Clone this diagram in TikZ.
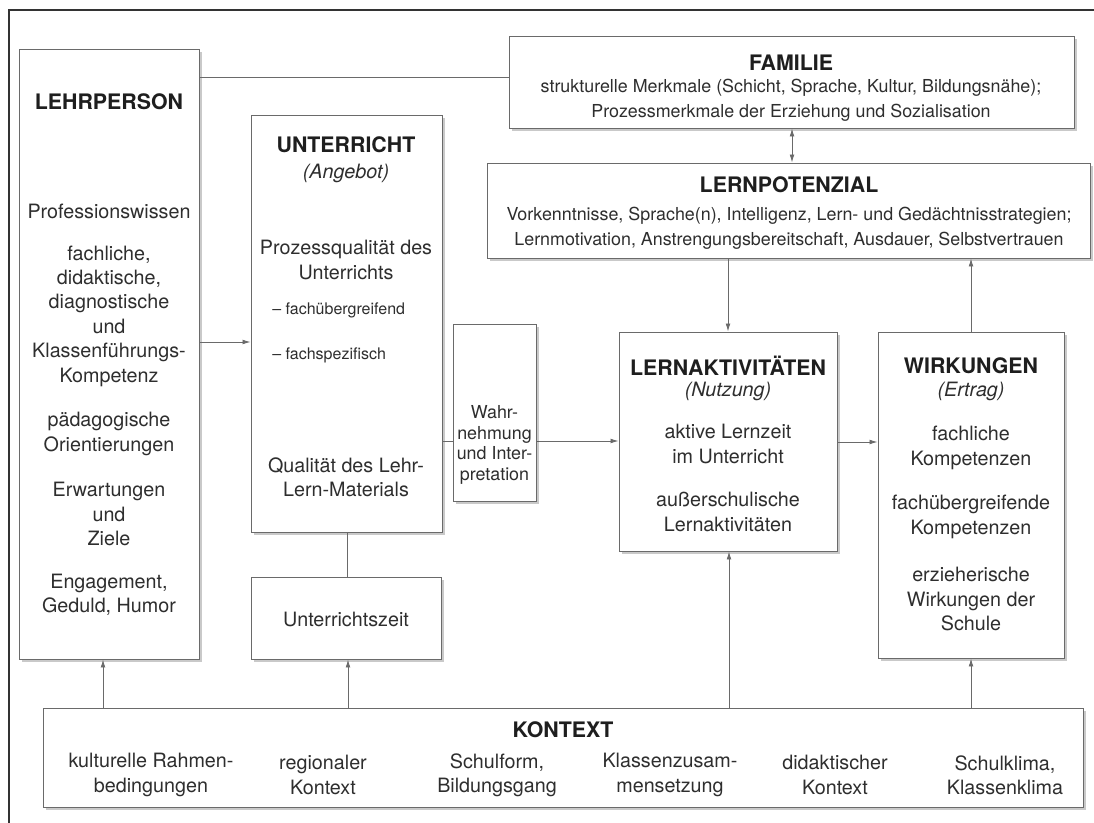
\documentclass[tikz,border=0pt]{standalone}
\usepackage{fontspec}
\setmainfont{TeX Gyre Heros}
\usetikzlibrary{arrows.meta,shadows,fit}
\definecolor{txtc}{HTML}{2E2E2E}
\definecolor{ttlc}{HTML}{1E1E1E}
\definecolor{linec}{HTML}{6A6A6A}
\begin{document}
\begin{tikzpicture}[x=0.75pt,y=-0.75pt,
  boxst/.style={draw=linec, line width=0.7pt, fill=white, inner sep=0pt,
    drop shadow={shadow xshift=2.4pt, shadow yshift=-2.4pt, opacity=0.3, fill=black!70}},
  ttl/.style={font=\bfseries\fontsize{16}{19}\selectfont, text=ttlc, inner sep=0pt},
  subt/.style={font=\itshape\fontsize{14.8}{18}\selectfont, text=txtc, inner sep=0pt},
  bod/.style={font=\fontsize{14.8}{18.3}\selectfont, text=txtc, align=center, inner sep=0pt},
  smalltxt/.style={font=\fontsize{13.4}{18.6}\selectfont, text=txtc, align=center, inner sep=0pt},
  tinytxt/.style={font=\fontsize{12}{14}\selectfont, text=txtc, inner sep=0pt, anchor=west},
  wahrtxt/.style={font=\fontsize{13.4}{15.3}\selectfont, text=txtc, align=center, inner sep=0pt},
  conn/.style={draw=linec, line width=0.65pt},
  arr/.style={conn, -{Latex[length=6pt,width=3.6pt]}},
  dblarr/.style={conn, {Latex[length=6pt,width=3.6pt]}-{Latex[length=6pt,width=3.6pt]}}
]
\useasboundingbox (0,0) rectangle (1094,823);
% outer frame
\coordinate (frTL) at (9,10);
\coordinate (frTR) at (1094,10);
\coordinate (frBL) at (9,823);
\draw[line width=1.1pt, draw=black!80] (frTR) -- (frTL) -- (frBL);

% boxes
\node[boxst, fit={(19,49) (199,659)}] (lehr) {};
\node[boxst, fit={(509,36) (1074,128)}] (fam) {};
\node[boxst, fit={(487,163) (1090,258)}] (lpot) {};
\node[boxst, fit={(251,115) (442,532)}] (unt) {};
\node[boxst, fit={(251,577) (441,659)}] (uzeit) {};
\node[boxst, fit={(619,332) (837,551)}] (lakt) {};
\node[boxst, fit={(878,332) (1064,658)}] (wirk) {};
\node[boxst, fit={(43,708) (1083,807)}] (kont) {};

% connectors
\draw[conn] (lehr.east |- 0,77) -- (fam.west |- 0,77);
\draw[arr] (lehr.east |- 0,342) -- (unt.west |- 0,342);
\draw[arr] (unt.east |- 0,441) -- (lakt.west |- 0,441);
\draw[arr] (lakt.east |- 0,442) -- (wirk.west |- 0,442);
\draw[arr] (lakt.north |- lpot.south) -- (lakt.north);
\draw[arr] (wirk.north) -- (wirk.north |- lpot.south);
\draw[dblarr] (fam.south -| 792,0) -- (lpot.north -| 792,0);
\draw[conn] (unt.south -| 347,0) -- (uzeit.north -| 347,0);
\draw[arr] (kont.north -| 103,0) -- (lehr.south -| 103,0);
\draw[arr] (kont.north -| 348,0) -- (uzeit.south -| 348,0);
\draw[arr] (kont.north -| 729,0) -- (lakt.south -| 729,0);
\draw[arr] (kont.north -| 971,0) -- (wirk.south -| 971,0);

% Wahrnehmung box (drawn over the arrow)
\node[boxst, fit={(453,324) (536,501)}] (wahr) {};

% LEHRPERSON texts
\node[ttl] (lehrT) at (109,102) {LEHRPERSON};
\node[bod] (lehr1) at (109,211) {Professionswissen};
\node[bod] (lehr2) at (109,316) {fachliche,\\didaktische,\\diagnostische\\und\\Klassenführungs-\\Kompetenz};
\node[bod] (lehr3) at (109,434) {pädagogische\\Orientierungen};
\node[bod] (lehr4) at (109,514) {Erwartungen\\und\\Ziele};
\node[bod] (lehr5) at (109,595) {Engagement,\\Geduld, Humor};

% UNTERRICHT texts
\node[ttl] (untT) at (346,145) {UNTERRICHT};
\node[subt] (untS) at (346,173) {(Angebot)};
\node[bod] (unt1) at (346,260) {Prozessqualität des\\Unterrichts};
\node[tinytxt] (unt2) at (272,310) {– fachübergreifend};
\node[tinytxt] (unt3) at (272,355) {– fachspezifisch};
\node[bod] (unt4) at (346,477) {Qualität des Lehr-\\Lern-Materials};
\node[bod] (uzeitT) at (346,619) {Unterrichtszeit};

% Wahrnehmung text
\node[wahrtxt] (wahrT) at (494.5,445) {Wahr-\\nehmung\\und Inter-\\pretation};

% LERNAKTIVITAETEN
\node[ttl] (laktT) at (728,366) {LERNAKTIVITÄTEN};
\node[subt] (laktS) at (728,391) {(Nutzung)};
\node[bod] (lakt1) at (728,444) {aktive Lernzeit\\im Unterricht};
\node[bod] (lakt2) at (728,512) {außerschulische\\Lernaktivitäten};

% WIRKUNGEN
\node[ttl] (wirkT) at (971,366) {WIRKUNGEN};
\node[subt] (wirkS) at (971,391) {(Ertrag)};
\node[bod] (wirk1) at (971,448) {fachliche\\Kompetenzen};
\node[bod] (wirk2) at (971,517) {fachübergreifende\\Kompetenzen};
\node[bod] (wirk3) at (971,599) {erzieherische\\Wirkungen der\\Schule};

% FAMILIE
\node[ttl] (famT) at (791,63) {FAMILIE};
\node[smalltxt] (fam1) at (791,100) {strukturelle Merkmale (Schicht, Sprache, Kultur, Bildungsnähe);\\Prozessmerkmale der Erziehung und Sozialisation};

% LERNPOTENZIAL
\node[ttl] (lpotT) at (789,185) {LERNPOTENZIAL};
\node[smalltxt] (lpot1) at (789,228) {Vorkenntnisse, Sprache(n), Intelligenz, Lern- und Gedächtnisstrategien;\\Lernmotivation, Anstrengungsbereitschaft, Ausdauer, Selbstvertrauen};

% KONTEXT
\node[ttl] (kontT) at (563,730) {KONTEXT};
\node[bod] (k1) at (151,775) {kulturelle Rahmen-\\bedingungen};
\node[bod] (k2) at (323,775) {regionaler\\Kontext};
\node[bod] (k3) at (497,775) {Schulform,\\Bildungsgang};
\node[bod] (k4) at (670,775) {Klassenzusam-\\mensetzung};
\node[bod] (k5) at (835,775) {didaktischer\\Kontext};
\node[bod] (k6) at (1005,775) {Schulklima,\\Klassenklima};
\end{tikzpicture}
\end{document}
